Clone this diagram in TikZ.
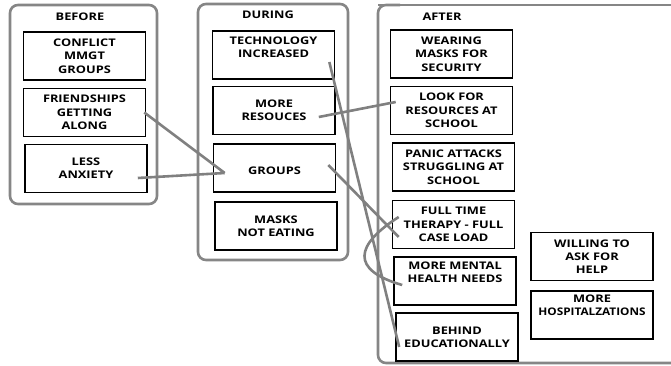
\documentclass[tikz,border=0pt]{standalone}
\usepackage{fontspec}
\newfontfamily\boxfont{Open Sans Bold}[FakeStretch=1.22]
\usetikzlibrary{positioning, calc}

\begin{document}
\begin{tikzpicture}[x=1pt,y=-1pt,
    box/.style={draw=black, line width=1.6pt, minimum width=122pt, minimum height=48pt,
                align=center, inner sep=1pt, font=\boxfont\fontsize{10.5}{13.3}\selectfont},
    heading/.style={font=\boxfont\fontsize{10.5}{13.3}\selectfont},
    frame/.style={draw=gray!95, line width=2.6pt, rounded corners=8pt},
    link/.style={draw=gray, line width=2.6pt}]
      \useasboundingbox (0,0) rectangle (671,366);

      % phases
      \draw[frame] (10,5) rectangle (157,204);
      \draw[frame] (198,4) rectangle (348,260);
      \draw[frame] (378,5) -- (672,5);
      \draw[frame] (672,363) -- (378,363) -- (378,5) -- (400,5);
      \node[heading] (before) at (80,17) {BEFORE};
      \node[heading] (during) at (268,15) {DURING};
      \node[heading] (after) at (442,17) {AFTER};

      \node[box] (conflict) at (84.5,56)  {CONFLICT\\MMGT\\GROUPS};
      \node[box] (friend)   at (84.5,112.5) {FRIENDSHIPS\\GETTING\\ALONG};
      \node[box] (anxiety)  at (86,168.5) {LESS\\ANXIETY};

      \node[box] (tech)     at (273.5,55) {TECHNOLOGY\\INCREASED\\[2pt]};
      \node[box] (resource) at (274,110.5) {MORE\\RESOUCES};
      \node[box] (groups)   at (274.5,168) {\\GROUPS};
      \node[box] (masks)    at (276,226) {MASKS\\NOT EATING};

      \node[box] (wearing)  at (451.5,54)  {WEARING\\MASKS FOR\\SECURITY};
      \node[box] (look)     at (451.5,110.5) {LOOK FOR\\RESOURCES AT\\SCHOOL};
      \node[box] (panic)    at (453.5,167) {PANIC ATTACKS\\STRUGGLING AT\\SCHOOL};
      \node[box] (fulltime) at (453.5,224.5) {FULL TIME\\THERAPY - FULL\\CASE LOAD};
      \node[box] (mental)   at (455,281) {MORE MENTAL\\HEALTH NEEDS\\[4pt]};
      \node[box] (behind)   at (457,337) {BEHIND\\EDUCATIONALLY};
      \node[box] (willing)  at (592,256.5) {WILLING TO\\ASK FOR\\HELP};
      \node[box] (hospital) at (592,315) {MORE\\\scalebox{0.92}[1]{HOSPITALZATIONS}\\[6pt]};

      \path[link] ([xshift=-2pt]friend.east) -- ([shift={(12,5)}]groups.west)
            ([shift={(-10,9.5)}]anxiety.east) -- ([shift={(12,5)}]groups.west)
            ([shift={(-6,7)}]tech.east) -- ([shift={(4,10)}]behind.west)
            ([shift={(-17,6.5)}]resource.east) -- ([shift={(6,-8.5)}]look.west)
            ([shift={(-8,-3)}]groups.east) -- ([shift={(7,12.5)}]fulltime.west)
            ([shift={(7,-7.5)}]fulltime.west) .. controls (355,245) and (350,270) .. ([shift={(9,4)}]mental.west)
            ;

\end{tikzpicture}
\end{document}
